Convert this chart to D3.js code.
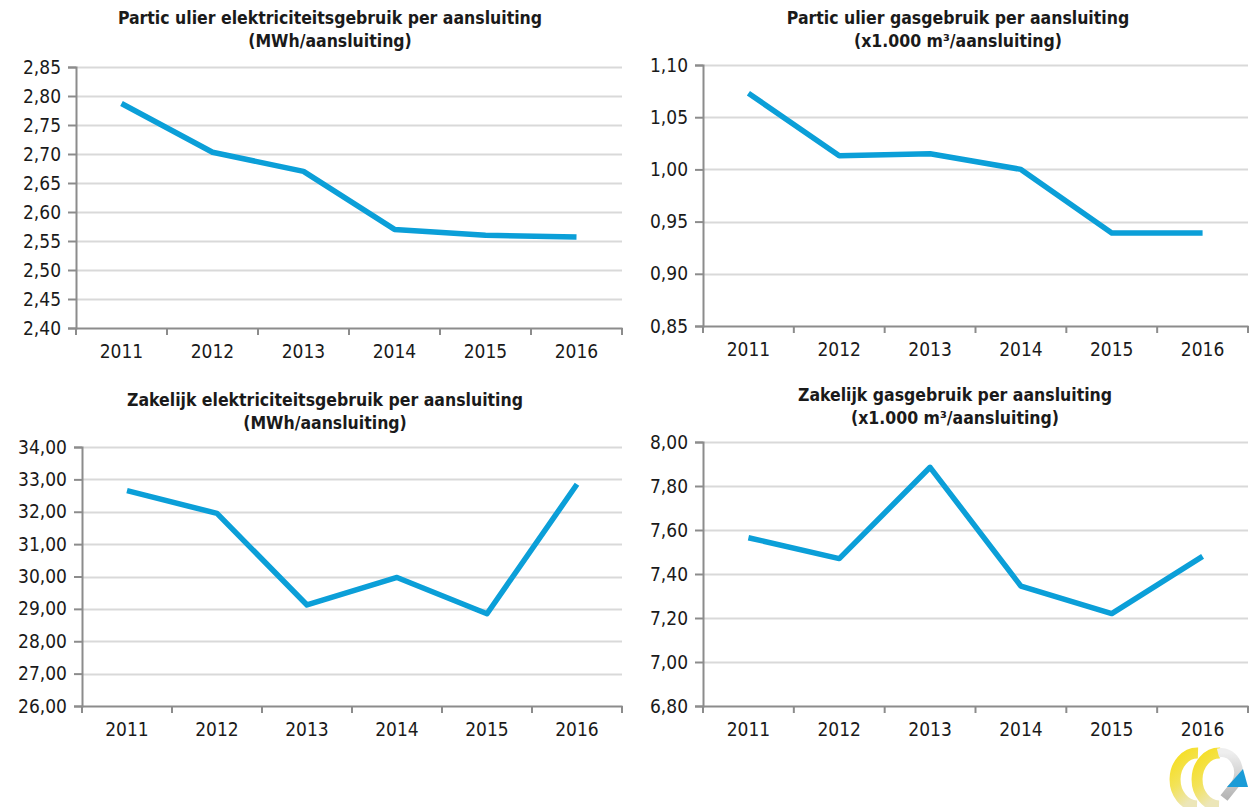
<!DOCTYPE html>
<html>
<head>
<meta charset="utf-8">
<script src="https://cdn.jsdelivr.net/npm/d3@7"></script>
<style>
  body { margin: 0; background: #fff; }
  text { font-family: "DejaVu Sans Condensed", "DejaVu Sans", sans-serif; fill: #1a1a1a; }
</style>
</head>
<body>
<script>
// Data per panel
var years = ["2011", "2012", "2013", "2014", "2015", "2016"];

var partElek = [2.787, 2.703, 2.670, 2.570, 2.560, 2.557];
var partGas = [1.073, 1.013, 1.015, 1.000, 0.939, 0.939];
var zakElek = [32.65, 31.95, 29.12, 29.97, 28.85, 32.85];
var zakGas = [7.565, 7.47, 7.885, 7.345, 7.22, 7.48];

var partElekTicks = [2.40, 2.45, 2.50, 2.55, 2.60, 2.65, 2.70, 2.75, 2.80, 2.85];
var partGasTicks = [0.85, 0.90, 0.95, 1.00, 1.05, 1.10];
var zakElekTicks = [26, 27, 28, 29, 30, 31, 32, 33, 34];
var zakGasTicks = [6.80, 7.00, 7.20, 7.40, 7.60, 7.80, 8.00];

var svgWidth = 1250;
var svgHeight = 807;

var svg = d3.select("body")
  .append("svg")
  .attr("width", svgWidth)
  .attr("height", svgHeight);

// panel layout
var panels = [
  { title: ["Partic ulier elektriciteitsgebruik per aansluiting", "(MWh/aansluiting)"],
    values: partElek, ticks: partElekTicks,
    left: 76, right: 622, top: 67, bottom: 328, titleX: 330, titleY: 24 },
  { title: ["Partic ulier gasgebruik per aansluiting", "(x1.000 m³/aansluiting)"],
    values: partGas, ticks: partGasTicks,
    left: 703, right: 1248, top: 65, bottom: 326, titleX: 958, titleY: 24 },
  { title: ["Zakelijk elektriciteitsgebruik per aansluiting", "(MWh/aansluiting)"],
    values: zakElek, ticks: zakElekTicks,
    left: 82, right: 622, top: 447, bottom: 706, titleX: 325, titleY: 406 },
  { title: ["Zakelijk gasgebruik per aansluiting", "(x1.000 m³/aansluiting)"],
    values: zakGas, ticks: zakGasTicks,
    left: 703, right: 1248, top: 442, bottom: 706, titleX: 955, titleY: 401 }
];

var fmt = function(v) { return d3.format(".2f")(v).replace(".", ","); };

panels.forEach(function(p) {
  var g = svg.append("g");

  var x = d3.scaleBand()
    .domain(years)
    .range([p.left, p.right]);

  var y = d3.scaleLinear()
    .domain(d3.extent(p.ticks))
    .range([p.bottom, p.top]);

  // gridlines
  g.selectAll("line.grid")
    .data(p.ticks.slice(1))
    .enter()
    .append("line")
    .attr("x1", p.left)
    .attr("x2", p.right)
    .attr("y1", function(d) { return Math.round(y(d)) + 0.5; })
    .attr("y2", function(d) { return Math.round(y(d)) + 0.5; })
    .style("stroke", "#d9d9d9")
    .style("stroke-width", 2);

  // y axis
  var yAxis = g.append("g")
    .attr("transform", "translate(" + p.left + ",0)")
    .call(d3.axisLeft(y).tickValues(p.ticks).tickFormat(fmt).tickSize(8).tickPadding(7));
  yAxis.select(".domain").style("stroke", "#8c8c8c").style("stroke-width", 2);
  yAxis.selectAll(".tick line").style("stroke", "#8c8c8c").style("stroke-width", 2);
  yAxis.selectAll("text").style("font-size", "19px").style("fill", "#1a1a1a");

  // x axis
  var xAxis = g.append("g")
    .attr("transform", "translate(0," + p.bottom + ")")
    .call(d3.axisBottom(x).tickSize(0).tickPadding(17));
  xAxis.select(".domain").style("stroke", "#8c8c8c").style("stroke-width", 2);
  xAxis.selectAll("text").style("font-size", "19px").style("fill", "#1a1a1a");

  // category boundary ticks
  var bounds = years.map(function(d) { return x(d); }).concat([p.right]);
  g.selectAll("line.xt")
    .data(bounds)
    .enter()
    .append("line")
    .attr("x1", function(d) { return d; })
    .attr("x2", function(d) { return d; })
    .attr("y1", p.bottom)
    .attr("y2", p.bottom + 7)
    .style("stroke", "#8c8c8c")
    .style("stroke-width", 2);

  // the line
  var line = d3.line()
    .x(function(d, i) { return x(years[i]) + x.bandwidth() / 2; })
    .y(function(d) { return y(d); });

  g.append("path")
    .datum(p.values)
    .attr("d", line)
    .style("fill", "none")
    .style("stroke", "#0b9fd8")
    .style("stroke-width", 5.5)
    .style("stroke-linejoin", "round");

  // title
  g.append("text")
    .attr("x", p.titleX)
    .attr("y", p.titleY)
    .attr("text-anchor", "middle")
    .style("font-size", "17.5px")
    .style("font-weight", "bold")
    .selectAll("tspan")
    .data(p.title)
    .enter()
    .append("tspan")
    .attr("x", p.titleX)
    .attr("dy", function(d, i) { return i === 0 ? 0 : 23; })
    .text(function(d) { return d; });
});

// logo bottom right
var defs = svg.append("defs");
var grad = defs.append("linearGradient")
  .attr("id", "yg")
  .attr("x1", "0").attr("y1", "0").attr("x2", "0.4").attr("y2", "1");
grad.append("stop").attr("offset", "0%").attr("stop-color", "#f6de1e");
grad.append("stop").attr("offset", "55%").attr("stop-color", "#f3e35a");
grad.append("stop").attr("offset", "100%").attr("stop-color", "#ece6b8");

var grey = defs.append("linearGradient")
  .attr("id", "gg")
  .attr("x1", "0").attr("y1", "0").attr("x2", "0").attr("y2", "1");
grey.append("stop").attr("offset", "0%").attr("stop-color", "#eeeeee");
grey.append("stop").attr("offset", "100%").attr("stop-color", "#b5b5b5");

var logo = svg.append("g");
// yellow rings, open to the right
logo.append("path")
  .attr("d", "M1198,753 A22,26 0 1,0 1197,806")
  .style("fill", "none")
  .style("stroke", "url(#yg)")
  .style("stroke-width", 11);
logo.append("path")
  .attr("d", "M1220,753 A22,26 0 1,0 1219,806")
  .style("fill", "none")
  .style("stroke", "url(#yg)")
  .style("stroke-width", 11);
// grey right half of second ring
logo.append("path")
  .attr("d", "M1218,753 A17,20 0 0,1 1236,783 L1224,798")
  .style("fill", "none")
  .style("stroke", "url(#gg)")
  .style("stroke-width", 9);
// blue triangle
logo.append("path")
  .attr("d", "M1227,787 L1248,787 L1243,769 Z")
  .style("fill", "#1a9bd7");
</script>
</body>
</html>
